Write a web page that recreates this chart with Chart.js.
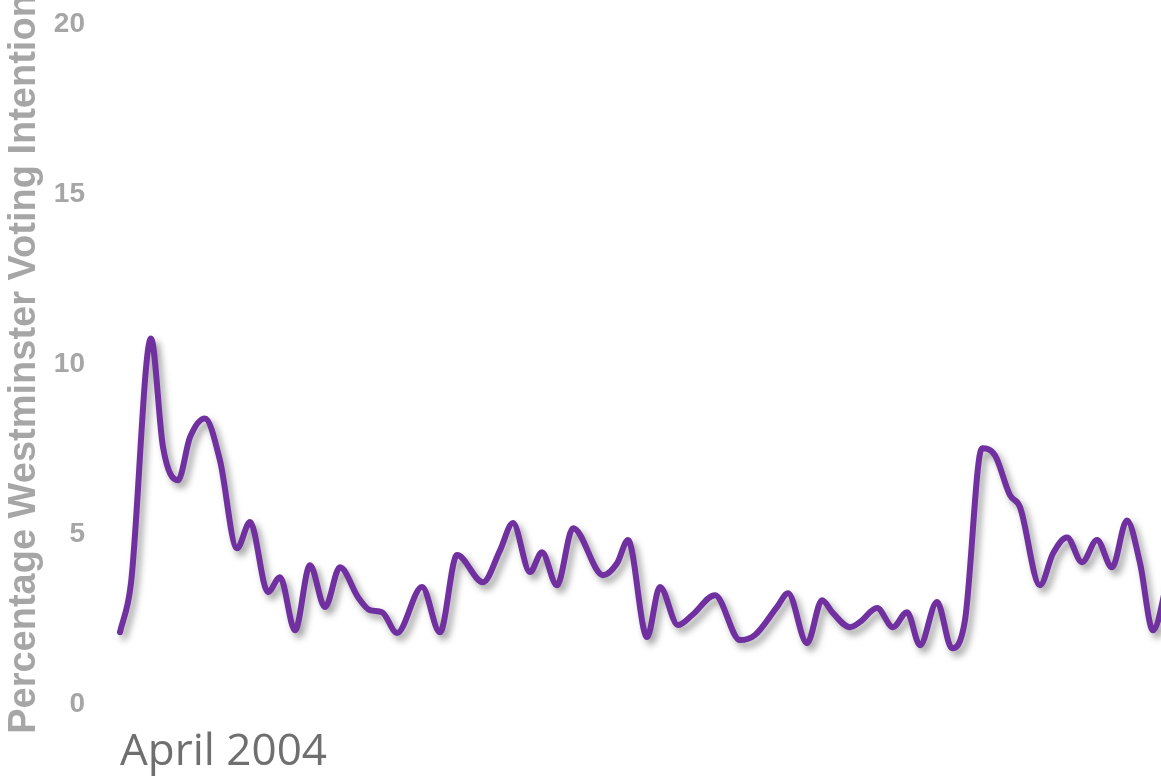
<!DOCTYPE html>
<html>
<head>
<meta charset="utf-8">
<script src="https://cdn.jsdelivr.net/npm/chart.js@4"></script>
<style>
html,body{margin:0;padding:0;background:#ffffff;overflow:hidden}
#wrap{width:1161px;height:777px}
</style>
</head>
<body>
<div id="wrap"><canvas id="c" width="1161" height="777"></canvas></div>
<script>
// Months since April 2004 (x) and voting-intention share (%)
const months = [0,0.79,2.23,3.10,4.18,5.04,6.12,7.20,8.43,9.37,10.66,11.53,12.61,13.69,14.77,15.85,17.15,18.01,18.88,19.96,
  21.76,23.05,24.28,26.15,27.38,28.31,29.54,30.40,31.48,32.64,34.80,35.81,36.60,37.97,38.90,40.20,41.21,42.87,44.67,45.75,
  47.33,48.13,49.50,50.58,51.37,52.59,53.31,54.54,55.69,56.70,57.64,58.86,59.94,60.88,62.10,63.04,64.12,64.84,66.28,67.22,
  68.23,69.31,70.39,71.47,72.55,73.49,74.42,75.6];
const share = [2.11,3.55,10.75,7.55,6.58,7.84,8.40,7.17,4.58,5.35,3.29,3.73,2.17,4.08,2.85,4.02,3.14,2.76,2.70,2.09,
  3.44,2.11,4.38,3.58,4.52,5.32,3.88,4.46,3.49,5.17,3.79,4.14,4.82,1.97,3.44,2.32,2.61,3.20,1.88,2.03,
  2.85,3.26,1.79,3.05,2.67,2.26,2.41,2.82,2.26,2.70,1.73,3.00,1.64,2.47,7.52,7.31,6.14,5.79,3.49,4.43,
  4.90,4.17,4.82,4.02,5.40,4.14,2.17,3.9];
const yTickValues = [0,5,10,15,20];
const xTickLabel = 'April 2004';
const yAxisTitle = 'Percentage Westminster Voting Intention';

const shadowPlugin = {
  id: 'lineShadow',
  beforeDatasetDraw(chart) {
    const c = chart.ctx;
    c.save();
    c.shadowColor = 'rgba(0,0,0,0.38)';
    c.shadowBlur = 7;
    c.shadowOffsetX = 4;
    c.shadowOffsetY = 5;
  },
  afterDatasetDraw(chart) {
    chart.ctx.restore();
  }
};

new Chart(document.getElementById('c').getContext('2d'), {
  type: 'line',
  data: {
    datasets: [{
      data: months.map((m, i) => ({ x: m, y: share[i] })),
      borderColor: '#7030A0',
      borderWidth: 6,
      pointRadius: 0,
      fill: false,
      clip: false,
      cubicInterpolationMode: 'monotone',
      borderCapStyle: 'round',
      borderJoinStyle: 'round'
    }]
  },
  options: {
    responsive: false,
    animation: false,
    events: [],
    layout: { padding: { top: 24, right: 0, bottom: 0, left: 0 } },
    plugins: { legend: { display: false }, tooltip: { enabled: false } },
    scales: {
      x: {
        type: 'linear',
        min: 0,
        max: 75,
        grid: { display: false, drawTicks: false },
        border: { display: false },
        afterBuildTicks: s => { s.ticks = [{ value: 0 }]; },
        afterFit: s => { s.height = 73; s.paddingLeft = 0; s.paddingRight = 0; },
        ticks: {
          callback: () => xTickLabel,
          align: 'start',
          maxRotation: 0,
          autoSkip: false,
          padding: 22,
          color: '#6F6F6F',
          font: { family: 'Open Sans', size: 44 }
        }
      },
      y: {
        min: 0,
        max: 20,
        grid: { display: false, drawTicks: false },
        border: { display: false },
        afterBuildTicks: s => { s.ticks = yTickValues.map(v => ({ value: v })); },
        afterFit: s => { s.width = 120; s.paddingTop = 0; s.paddingBottom = 0; },
        ticks: {
          padding: 35,
          color: '#A6A6A6',
          font: { family: 'Liberation Sans', weight: 'bold', size: 28 }
        },
        title: {
          display: true,
          text: yAxisTitle,
          color: '#A6A6A6',
          font: { family: 'Liberation Sans', weight: 'bold', size: 38 },
          padding: { top: 2, bottom: 6 }
        }
      }
    }
  },
  plugins: [shadowPlugin]
});
</script>
</body>
</html>
